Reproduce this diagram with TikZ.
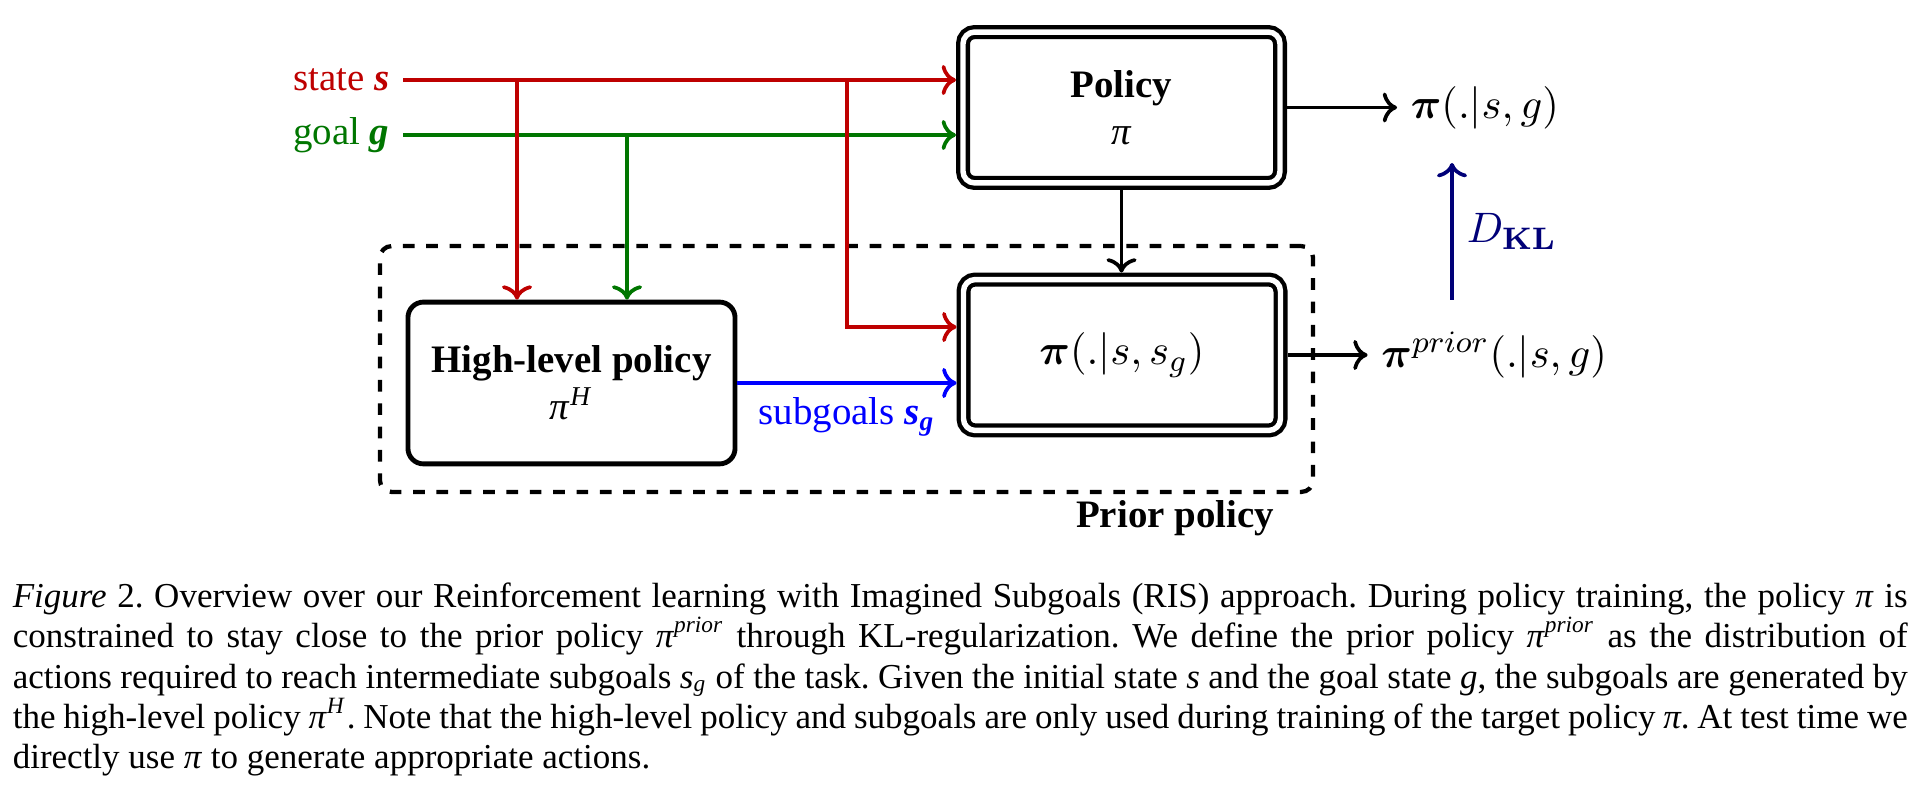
\documentclass[tikz,border=0pt]{standalone}
\usepackage{amsmath,amssymb}
\usepackage[no-math]{fontspec}
\setmainfont{Liberation Serif}
\usepackage{tikz}
\usetikzlibrary{positioning, arrows.meta, calc}

\definecolor{statered}{RGB}{190,0,0}
\definecolor{goalgreen}{RGB}{0,118,0}
\definecolor{subblue}{RGB}{0,0,255}
\definecolor{klnavy}{RGB}{0,0,120}

\newcommand{\tpi}{\textit{π}}
\newcommand{\mathsize}{\fontsize{11}{13}\selectfont}

\tikzset{
	dblbox/.style={draw, double, line width=1.1pt, double distance=1.4pt, rounded corners=3pt,
		outer sep=1.8pt, inner sep=0pt, minimum width=81.5pt, minimum height=38.8pt, align=center},
	hlbox/.style={draw, line width=1.25pt, rounded corners=4pt,
		minimum width=84.1pt, minimum height=41.6pt, align=center},
	dashframe/.style={draw, dashed, line width=1.1pt, rounded corners=3pt},
	flow/.style={line width=0.95pt, ->},
}

\begin{document}
\frenchspacing
\begin{tikzpicture}[x=0.2571pt, y=-0.2571pt, font=\fontsize{10}{12}\selectfont]
	\useasboundingbox (0,0) rectangle (1920,786);
	
	% prior policy frame
	\node[dashframe, minimum width=239.9pt, minimum height=63.2pt] (pp) at (846.5,369) {};
	\node[font=\fontsize{10}{12}\selectfont\bfseries] (pplab) at (1175,518) {Prior policy};
	
	% boxes
	\node[dblbox] (pol) at (1121.5,107.5) {\textbf{Policy}\\\tpi};
	\node[dblbox] (pri) at (1122,355) {\mathsize$\boldsymbol{\pi}(.|s,s_g)$};
	\node[hlbox] (hl) at (571.5,383) {\textbf{High-level policy}\\\tpi\textsuperscript{\textit{H}}};
	
	% inputs
	\node[text=statered, anchor=east] (st) at (403,80) {state \textbf{\textit{s}}};
	\node[text=goalgreen, anchor=east] (gl) at (403,135) {goal \textbf{\textit{g}}};
	\coordinate (sj1) at (517,80);
	\coordinate (gj1) at (627,135);
	\coordinate (sj2) at (847,80);
	
	\draw[flow, statered] (st.east) -- (st.east -| pol.west);
	\draw[flow, goalgreen] (gl.east) -- (gl.east -| pol.west);
	\draw[flow, statered] (sj1) -- (sj1 |- hl.north);
	\draw[flow, goalgreen] (gj1) -- (gj1 |- hl.north);
	\draw[flow, statered] (sj2) |- ([yshift=7.2pt]pri.west);
	\draw[flow, subblue] (hl.east) -- (hl.east -| pri.west)
		node[midway, below, text=subblue] {subgoals \textbf{\textit{s}}\textsubscript{\textbf{\textit{g}}}};
	\draw[flow] (pol.south) -- (pol.south |- pri.north);
	
	% outputs
	\node[right=28.3pt of pol.east, font=\mathsize] (pout) {$\boldsymbol{\pi}(.|s,g)$};
	\node[right=20.6pt of pri.east, font=\mathsize] (pprior) {$\boldsymbol{\pi}^{prior}(.|s,g)$};
	\draw[flow] (pol.east) -- (pout);
	\draw[flow] (pri.east) -- (pprior);
	
	\coordinate (klb) at (1452,300);
	\coordinate (klt) at (1452,163);
	\draw[flow, klnavy] (klb) -- (klt)
		node[midway, right, text=klnavy, font=\mathsize] {$D_{\mathbf{KL}}$};
	
	% caption
	\node[anchor=north west, inner sep=0pt, text width=487.2pt, align=justify,
		font=\fontsize{9}{10.36}\selectfont] (cap) at (12,582) {%
		\textit{Figure} 2. Overview over our Reinforcement learning with Imagined Subgoals (RIS) approach. During policy training, the policy \tpi{} is\linebreak
		constrained to stay close to the prior policy \tpi\textsuperscript{\textit{prior}} through KL-regularization. We define the prior policy \tpi\textsuperscript{\textit{prior}} as the distribution of\linebreak
		actions required to reach intermediate subgoals \textit{s}\textsubscript{\textit{g}} of the task. Given the initial state \textit{s} and the goal state \textit{g}, the subgoals are generated by\linebreak
		the high-level policy \tpi\textsuperscript{\textit{H}}. Note that the high-level policy and subgoals are only used during training of the target policy \tpi. At test time we\linebreak
		directly use \tpi{} to generate appropriate actions.};
\end{tikzpicture}
\end{document}
